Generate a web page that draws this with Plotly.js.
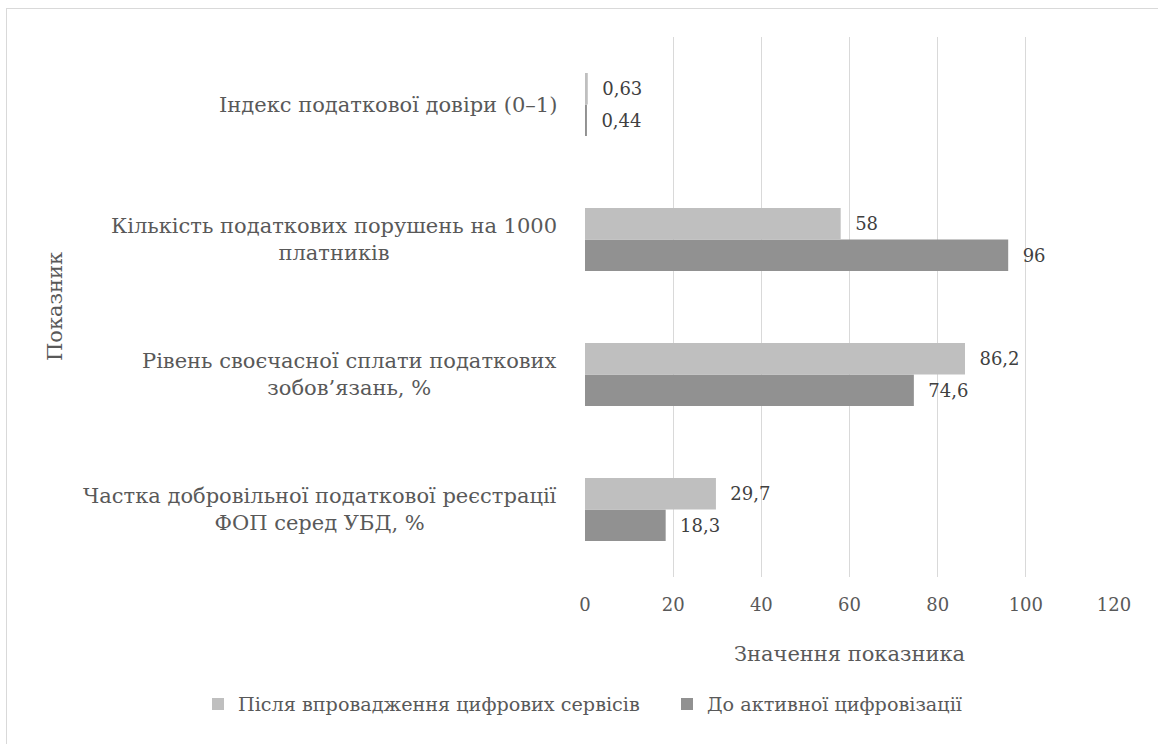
<!DOCTYPE html>
<html>
<head>
<meta charset="utf-8">
<script src="https://cdn.plot.ly/plotly-3.0.1.min.js"></script>
<style>
  html, body { margin: 0; padding: 0; background: #fff; overflow: hidden; }
  #wrap { position: relative; width: 1158px; height: 744px; }
  #chart { position: absolute; left: 0; top: 0; width: 1158px; height: 744px; }
  #frame { position: absolute; left: 6px; top: 8px; width: 1200px; height: 800px;
           border-left: 1.5px solid #d9d9d9; border-top: 1.5px solid #d9d9d9; pointer-events: none; }
</style>
</head>
<body>
<div id="wrap">
  <div id="chart"></div>
  <div id="frame"></div>
</div>
<script>
// Categories, top to bottom as shown
const categories = [
  "Індекс податкової довіри (0–1)",
  "Кількість податкових порушень на 1000<br>платників",
  "Рівень своєчасної сплати податкових<br>зобов’язань, %",
  "Частка добровільної податкової реєстрації<br>ФОП серед УБД, %"
];
const seriesAfterName = "Після впровадження цифрових сервісів";
const seriesBeforeName = "До активної цифровізації";
const afterValues = [0.63, 58, 86.2, 29.7];
const beforeValues = [0.44, 96, 74.6, 18.3];
const xTickValues = [0, 20, 40, 60, 80, 100, 120];
const xTitle = "Значення показника";
const yTitle = "Показник";

const FONT = "DejaVu Serif";
const fmt = v => "\u00a0\u00a0" + String(v).replace(".", ",");

const W = 1158, H = 744;
const M = { l: 585, r: 44, t: 37, b: 167 };
const plotW = W - M.l - M.r, plotH = H - M.t - M.b;
const px2x = px => (px - M.l) / plotW;
const py2y = py => (H - M.b - py) / plotH;

const traces = [
  {
    type: "bar", orientation: "h", name: seriesBeforeName,
    y: categories, x: beforeValues,
    marker: { color: "#919191" },
    text: beforeValues.map(fmt), textposition: "outside", cliponaxis: false,
    textfont: { family: FONT, size: 18, color: "#404040" },
    legendrank: 2, hoverinfo: "none"
  },
  {
    type: "bar", orientation: "h", name: seriesAfterName,
    y: categories, x: afterValues,
    marker: { color: "#bfbfbf" },
    text: afterValues.map(fmt), textposition: "outside", cliponaxis: false,
    textfont: { family: FONT, size: 18, color: "#404040" },
    legendrank: 1, hoverinfo: "none"
  }
];

const annotations = categories.map(c => ({
  xref: "paper", yref: "y", x: px2x(559), y: c,
  text: c, showarrow: false, xanchor: "right", yanchor: "middle", align: "center",
  font: { family: FONT, size: 21, color: "#595959" }
}));
annotations.push({
  xref: "paper", yref: "paper", x: px2x(55), y: py2y(307),
  text: yTitle, textangle: -90, showarrow: false, xanchor: "center", yanchor: "middle",
  font: { family: FONT, size: 21, color: "#595959" }
});

const layout = {
  width: W, height: H,
  margin: M,
  paper_bgcolor: "rgba(0,0,0,0)", plot_bgcolor: "rgba(0,0,0,0)",
  font: { family: FONT, color: "#595959" },
  barmode: "group", bargap: 0.533, bargroupgap: 0,
  showlegend: true,
  legend: {
    orientation: "h", xref: "paper", yref: "paper",
    x: px2x(198), xanchor: "left", y: py2y(704), yanchor: "middle",
    font: { family: FONT, size: 19.2, color: "#595959" },
    itemwidth: 30, entrywidth: 424, traceorder: "normal", bgcolor: "rgba(0,0,0,0)"
  },
  xaxis: {
    range: [0, 120], tickvals: xTickValues, ticktext: xTickValues.map(String),
    showgrid: true, gridcolor: "#d9d9d9", gridwidth: 1.3,
    zeroline: false, showline: false, ticks: "",
    ticklabelstandoff: 15,
    tickfont: { family: FONT, size: 18, color: "#595959" },
    title: { text: xTitle, font: { family: FONT, size: 21, color: "#595959" }, standoff: 32 },
    fixedrange: true
  },
  yaxis: {
    type: "category", categoryorder: "array", categoryarray: categories.slice().reverse(),
    showticklabels: false, showgrid: false, zeroline: false, showline: false, ticks: "",
    fixedrange: true
  },
  annotations: annotations
};

Plotly.newPlot("chart", traces, layout, { staticPlot: true, displayModeBar: false });
</script>
</body>
</html>
